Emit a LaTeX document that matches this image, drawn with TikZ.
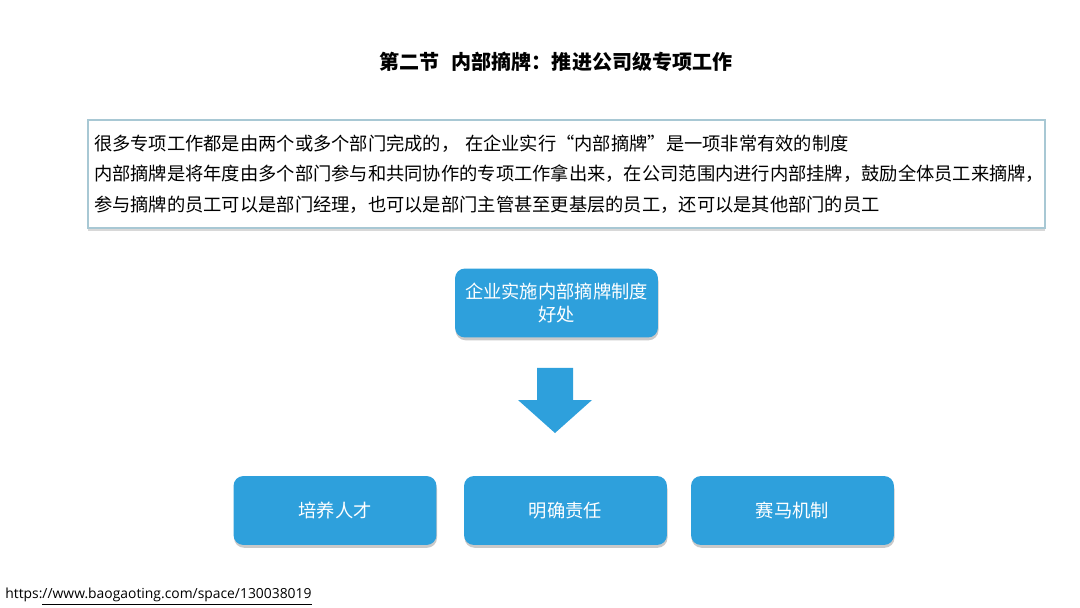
\documentclass[tikz,border=0pt]{standalone}
\usepackage{fontspec}
\setmainfont{Noto Sans CJK SC}
\newfontfamily\urlfont{Open Sans}
\usetikzlibrary{positioning, shadows}
\definecolor{boxblue}{RGB}{46,160,220}
\definecolor{frameblue}{RGB}{168,200,212}
\tikzset{
  bluebox/.style={rectangle, rounded corners=0.2cm, fill=boxblue, text=white,
    minimum width=4.06cm, minimum height=1.38cm, align=center,
    font=\fontsize{10.4}{13.5}\selectfont,
    drop shadow={shadow xshift=0.3pt, shadow yshift=-1.6pt, opacity=0.35, fill=black!60}},
  notebox/.style={rectangle, draw=frameblue, line width=0.8pt, fill=white,
    minimum width=19.14cm, minimum height=2.16cm, text width=18.9cm, align=left,
    font=\fontsize{10.4}{17.5}\selectfont,
    drop shadow={shadow xshift=0pt, shadow yshift=-1.5pt, opacity=0.3, fill=black!50}}
}
\begin{document}
\begin{tikzpicture}[x=0.02cm, y=-0.02cm]
\useasboundingbox[fill=white] (0,0) rectangle (1080,608);

% Title
\node (title) at (556,62) {\fontsize{11.4}{14}\selectfont\bfseries 第二节\hspace{0.6em}内部摘牌：推进公司级专项工作};

% Description box
\node (note) [notebox] at (566.5,174) {很多专项工作都是由两个或多个部门完成的，\hspace{0.3em}在企业实行“内部摘牌”是一项非常有效的制度\\
内部摘牌是将年度由多个部门参与和共同协作的专项工作拿出来，在公司范围内进行内部挂牌，鼓励全体员工来摘牌，\\
参与摘牌的员工可以是部门经理，也可以是部门主管甚至更基层的员工，还可以是其他部门的员工};

% Benefit box
\node (benefit) [bluebox] at (556.5,303) {企业实施内部摘牌制度\\好处};

% Block arrow
\coordinate (arrowtop) at (555,368);
\fill[boxblue] (arrowtop) ++(-18,0) -- ++(36,0) -- ++(0,32) -- ++(19,0)
  -- (555,433) -- (518,400) -- (537,400) -- cycle;

% Three results
\node (talent) [bluebox] at (335,510.5) {培养人才};
\node (duty) [bluebox] at (565.5,510.5) {明确责任};
\node (race) [bluebox] at (792.5,510.5) {赛马机制};

% Source
\node (src) [anchor=west, inner sep=0pt] at (5,597) {\urlfont\fontsize{7.9}{9}\selectfont https:\underline{//www.baogaoting.com/space/130038019}};

\end{tikzpicture}
\end{document}
